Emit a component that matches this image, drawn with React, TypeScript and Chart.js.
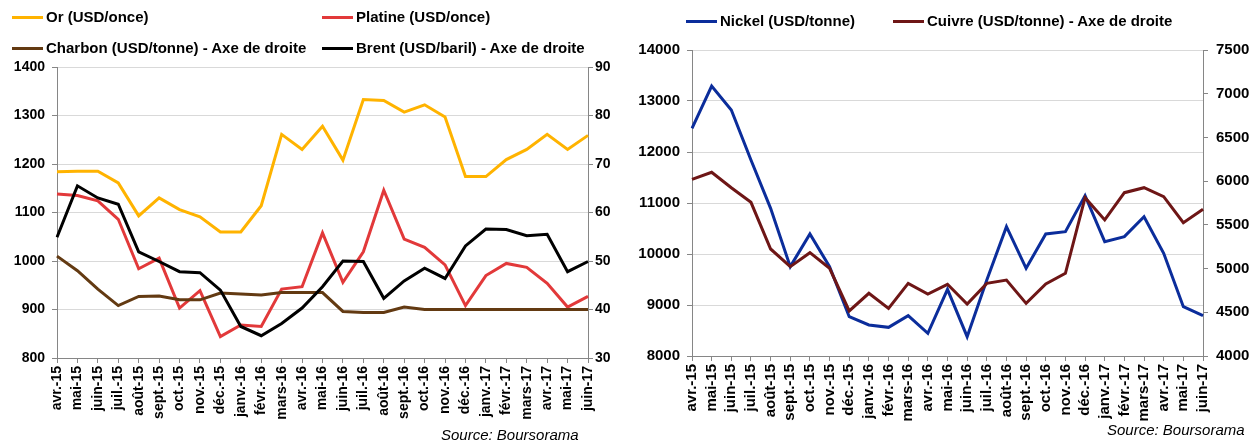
import React, { useEffect, useRef } from 'react';
import { Chart, registerables } from 'chart.js';

Chart.register(...registerables);

const months = ['avr.-15', 'mai-15', 'juin-15', 'juil.-15', 'août-15', 'sept.-15', 'oct.-15', 'nov.-15', 'déc.-15', 'janv.-16', 'févr.-16', 'mars-16', 'avr.-16', 'mai-16', 'juin-16', 'juil.-16', 'août-16', 'sept.-16', 'oct.-16', 'nov.-16', 'déc.-16', 'janv.-17', 'févr.-17', 'mars-17', 'avr.-17', 'mai-17', 'juin-17'];

const orUsdOnce = [1184, 1185, 1185, 1161, 1093, 1130, 1106, 1091, 1060, 1060, 1114, 1261, 1230, 1278, 1208, 1333, 1331, 1307, 1322, 1297, 1174, 1174, 1209, 1230, 1261, 1230, 1259];
const platineUsdOnce = [1138, 1135, 1124, 1086, 984, 1006, 903, 939, 844, 868, 865, 942, 947, 1058, 956, 1019, 1146, 1045, 1028, 992, 908, 970, 995, 987, 954, 905, 927];
const charbonUsdTonne = [51.0, 48.0, 44.2, 40.8, 42.7, 42.8, 42.0, 42.0, 43.4, 43.2, 43.0, 43.5, 43.5, 43.5, 39.6, 39.4, 39.4, 40.5, 40.0, 40.0, 40.0, 40.0, 40.0, 40.0, 40.0, 40.0, 40.0];
const brentUsdBaril = [54.9, 65.5, 63.0, 61.7, 51.9, 49.9, 47.8, 47.6, 44.0, 36.5, 34.6, 37.1, 40.3, 44.7, 50.0, 49.9, 42.3, 45.9, 48.5, 46.4, 53.1, 56.6, 56.5, 55.2, 55.5, 47.8, 49.9];

const nickelUsdTonne = [12464, 13294, 12824, 11843, 10895, 9752, 10392, 9752, 8771, 8608, 8562, 8791, 8444, 9307, 8379, 9490, 10536, 9719, 10392, 10438, 11144, 10242, 10340, 10732, 10013, 8967, 8791];
const cuivreUsdTonne = [6021, 6101, 5925, 5758, 5224, 5022, 5182, 5003, 4515, 4717, 4545, 4831, 4709, 4820, 4595, 4831, 4869, 4602, 4824, 4946, 5811, 5556, 5868, 5925, 5822, 5525, 5678];

const leftAxisTicks = { min: 800, max: 1400, step: 100 };
const leftRightAxisTicks = { min: 30, max: 90, step: 10 };
const rightAxisTicks = { min: 8000, max: 14000, step: 1000 };
const rightRightAxisTicks = { min: 4000, max: 7500, step: 500 };

const FONT = '"Liberation Sans", Arial, sans-serif';
const GRID = '#D9D9D9';
const AXIS = '#868686';

const C_OR = '#FFB300';
const C_PLAT = '#E2393A';
const C_CHARB = '#633A12';
const C_BRENT = '#000000';
const C_NICKEL = '#0B2D9B';
const C_CUIVRE = '#6E1616';

type Box = {
  width: number; height: number; top: number;
  yW: number; y1W: number; xH: number; fontSize: number;
  yPad: number; y1Pad: number;
};

const plain = (v: any) => String(v);

function buildOptions(b: Box, l: { min: number; max: number; step: number }, r: { min: number; max: number; step: number }): any {
  const font = { family: FONT, size: b.fontSize, weight: 'bold' as const };
  return {
    responsive: false,
    animation: false,
    layout: { padding: { top: b.top, left: 0, right: 0, bottom: 0 } },
    plugins: { legend: { display: false }, tooltip: { enabled: false }, title: { display: false } },
    elements: { point: { radius: 0 }, line: { tension: 0, borderWidth: 3 } },
    scales: {
      x: {
        type: 'category',
        offset: false,
        grid: { drawOnChartArea: false, drawTicks: true, tickLength: 5, tickColor: AXIS, offset: false },
        border: { color: AXIS, width: 1 },
        ticks: { autoSkip: false, maxRotation: 90, minRotation: 90, padding: 3, color: '#000', font },
        afterFit: (s: any) => { s.height = b.xH; },
      },
      y: {
        position: 'left',
        min: l.min, max: l.max,
        ticks: { stepSize: l.step, padding: b.yPad, color: '#000', font, callback: plain },
        grid: { color: GRID, tickColor: AXIS, tickLength: 5 },
        border: { color: AXIS, width: 1 },
        afterFit: (s: any) => { s.width = b.yW; },
      },
      y1: {
        position: 'right',
        min: r.min, max: r.max,
        ticks: { stepSize: r.step, padding: b.y1Pad, color: '#000', font, callback: plain },
        grid: { drawOnChartArea: false, tickColor: AXIS, tickLength: 5 },
        border: { color: AXIS, width: 1 },
        afterFit: (s: any) => { s.width = b.y1W; },
      },
    },
  };
}

function LineChart({ left, width, datasets, box, l, r }: any) {
  const ref = useRef<HTMLCanvasElement | null>(null);
  useEffect(() => {
    if (!ref.current) return;
    const chart = new Chart(ref.current, {
      type: 'line',
      data: { labels: months, datasets },
      options: buildOptions(box, l, r),
    });
    return () => chart.destroy();
  }, []);
  return (
    <canvas
      ref={ref}
      width={width}
      height={441}
      style={{ position: 'absolute', left, top: 0, width, height: 441 }}
    />
  );
}

function LegendItem({ x, y, color, text }: { x: number; y: number; color: string; text: string }) {
  return (
    <div style={{ position: 'absolute', left: x, top: y - 10, height: 20, display: 'flex', alignItems: 'center', whiteSpace: 'nowrap' }}>
      <div style={{ width: 31, height: 3, background: color, marginRight: 3 }} />
      <span style={{ fontFamily: FONT, fontWeight: 'bold', fontSize: 15, color: '#000', lineHeight: '20px' }}>{text}</span>
    </div>
  );
}

export default function App() {
  const leftDatasets = [
    { label: 'Or (USD/once)', data: orUsdOnce, borderColor: C_OR, backgroundColor: C_OR, yAxisID: 'y', order: 3 },
    { label: 'Platine (USD/once)', data: platineUsdOnce, borderColor: C_PLAT, backgroundColor: C_PLAT, yAxisID: 'y', order: 2 },
    { label: 'Charbon (USD/tonne) - Axe de droite', data: charbonUsdTonne, borderColor: C_CHARB, backgroundColor: C_CHARB, yAxisID: 'y1', order: 1 },
    { label: 'Brent (USD/baril) - Axe de droite', data: brentUsdBaril, borderColor: C_BRENT, backgroundColor: C_BRENT, yAxisID: 'y1', order: 0 },
  ];
  const rightDatasets = [
    { label: 'Nickel (USD/tonne)', data: nickelUsdTonne, borderColor: C_NICKEL, backgroundColor: C_NICKEL, yAxisID: 'y', order: 1 },
    { label: 'Cuivre (USD/tonne) - Axe de droite', data: cuivreUsdTonne, borderColor: C_CUIVRE, backgroundColor: C_CUIVRE, yAxisID: 'y1', order: 0 },
  ];
  const leftBox: Box = { width: 625, height: 441, top: 67, yW: 57, y1W: 37, xH: 83, fontSize: 14, yPad: 7, y1Pad: 2 };
  const rightBox: Box = { width: 629, height: 441, top: 50, yW: 62, y1W: 56, xH: 85, fontSize: 15, yPad: 7, y1Pad: 8 };
  return (
    <div style={{ position: 'absolute', left: 0, top: 0, width: 1259, height: 441, background: '#fff', overflow: 'hidden' }}>
      <LineChart left={0} width={625} datasets={leftDatasets} box={leftBox} l={leftAxisTicks} r={leftRightAxisTicks} />
      <LineChart left={630} width={629} datasets={rightDatasets} box={rightBox} l={rightAxisTicks} r={rightRightAxisTicks} />
      <LegendItem x={12} y={17} color={C_OR} text="Or (USD/once)" />
      <LegendItem x={322} y={17} color={C_PLAT} text="Platine (USD/once)" />
      <LegendItem x={12} y={48} color={C_CHARB} text="Charbon (USD/tonne) - Axe de droite" />
      <LegendItem x={322} y={48} color={C_BRENT} text="Brent (USD/baril) - Axe de droite" />
      <LegendItem x={686} y={21} color={C_NICKEL} text="Nickel (USD/tonne)" />
      <LegendItem x={893} y={21} color={C_CUIVRE} text="Cuivre (USD/tonne) - Axe de droite" />
      <div style={{ position: 'absolute', left: 441, top: 426, fontFamily: FONT, fontStyle: 'italic', fontSize: 15, color: '#000', whiteSpace: 'nowrap', lineHeight: '18px' }}>Source: Boursorama</div>
      <div style={{ position: 'absolute', left: 1107, top: 421, fontFamily: FONT, fontStyle: 'italic', fontSize: 15, color: '#000', whiteSpace: 'nowrap', lineHeight: '18px' }}>Source: Boursorama</div>
    </div>
  );
}
